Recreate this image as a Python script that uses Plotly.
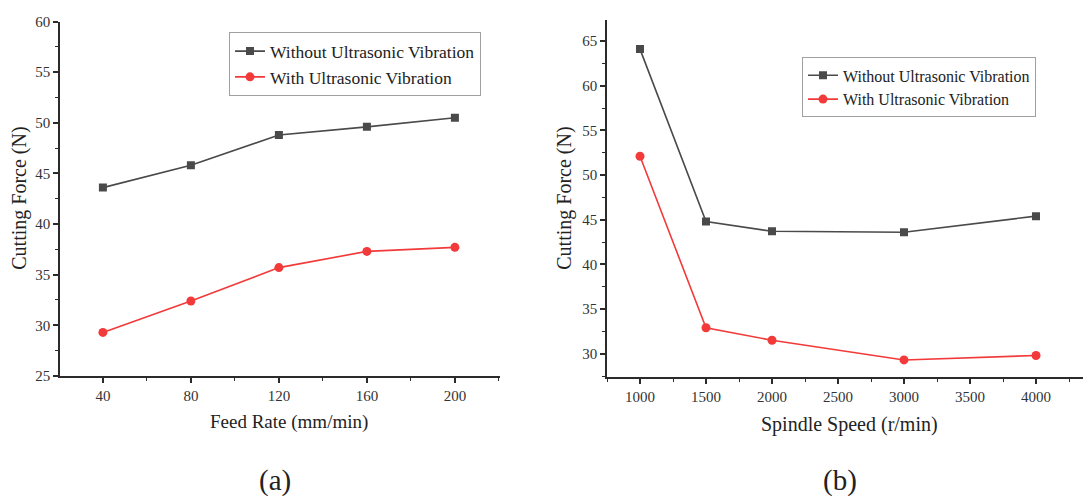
import plotly.graph_objects as go

# ---- data ----
feed_rate = [40, 80, 120, 160, 200]
feed_without = [43.6, 45.8, 48.8, 49.6, 50.5]
feed_with = [29.3, 32.4, 35.7, 37.3, 37.7]

spindle_speed = [1000, 1500, 2000, 3000, 4000]
speed_without = [64.1, 44.8, 43.7, 43.6, 45.4]
speed_with = [52.1, 32.9, 31.5, 29.3, 29.8]

name_without = "Without Ultrasonic Vibration"
name_with = "With Ultrasonic Vibration"

W, H = 1083, 504
FONT = "Liberation Serif, Times New Roman, serif"
GRAY = "#4a4a4a"
RED = "#f23a3a"
AX = "#2b2b2b"


def px_x(p):
    return p / W


def px_y(p):
    return 1 - p / H


fig = go.Figure()

line_kw = dict(width=1.6)
fig.add_trace(go.Scatter(x=feed_rate, y=feed_without, name=name_without, mode="lines+markers",
                         line=dict(color=GRAY, **line_kw),
                         marker=dict(symbol="square", size=8, color=GRAY),
                         xaxis="x", yaxis="y", legend="legend"))
fig.add_trace(go.Scatter(x=feed_rate, y=feed_with, name=name_with, mode="lines+markers",
                         line=dict(color=RED, **line_kw),
                         marker=dict(symbol="circle", size=9, color=RED),
                         xaxis="x", yaxis="y", legend="legend"))
fig.add_trace(go.Scatter(x=spindle_speed, y=speed_without, name=name_without, mode="lines+markers",
                         line=dict(color=GRAY, **line_kw),
                         marker=dict(symbol="square", size=8, color=GRAY),
                         xaxis="x2", yaxis="y2", legend="legend2"))
fig.add_trace(go.Scatter(x=spindle_speed, y=speed_with, name=name_with, mode="lines+markers",
                         line=dict(color=RED, **line_kw),
                         marker=dict(symbol="circle", size=9, color=RED),
                         xaxis="x2", yaxis="y2", legend="legend2"))

axis_common = dict(showline=True, linecolor=AX, linewidth=1.5, showgrid=False, zeroline=False,
                   ticks="outside", ticklen=5, tickwidth=1.5, tickcolor=AX,
                   tickfont=dict(family=FONT, size=15, color="#333"),
                   minor=dict(ticks="outside", ticklen=3, tickwidth=1.2, tickcolor=AX))

fig.update_layout(
    width=W, height=H,
    margin=dict(l=0, r=0, t=0, b=0),
    paper_bgcolor="white", plot_bgcolor="white",
    font=dict(family=FONT, color="#333"),
    xaxis=dict(domain=[px_x(60), px_x(500)], range=[20.5, 220.5], anchor="y",
               tickvals=feed_rate, minor_dtick=20, minor_tick0=0, **axis_common),
    yaxis=dict(domain=[px_y(380), px_y(14)], range=[25, 60], anchor="x",
               dtick=5, tick0=25, minor_dtick=2.5, minor_tick0=25, **axis_common),
    xaxis2=dict(domain=[px_x(607), 1.0], range=[750, 4356], anchor="y2",
                dtick=500, tick0=1000, minor_dtick=250, minor_tick0=0, **axis_common),
    yaxis2=dict(domain=[px_y(381), px_y(12)], range=[27.4, 67.4], anchor="x2",
                dtick=5, tick0=30, minor_dtick=2.5, minor_tick0=30, **axis_common),
    legend=dict(x=px_x(229), y=px_y(25), xanchor="left", yanchor="top",
                bgcolor="white", bordercolor="#a0a0a0", borderwidth=1,
                font=dict(family=FONT, size=17.5, color="#222"),
                tracegroupgap=0, itemwidth=30),
    legend2=dict(x=px_x(802), y=px_y(51), xanchor="left", yanchor="top",
                 bgcolor="white", bordercolor="#a0a0a0", borderwidth=1,
                 font=dict(family=FONT, size=16, color="#222"),
                 tracegroupgap=0, itemwidth=30),
    showlegend=True,
)

annos = [
    dict(text="Cutting Force (N)", x=px_x(20), y=px_y(197), textangle=-90, size=20),
    dict(text="Cutting Force (N)", x=px_x(565), y=px_y(197), textangle=-90, size=20),
    dict(text="Feed Rate (mm/min)", x=px_x(289), y=px_y(428), textangle=0, size=19),
    dict(text="Spindle Speed (r/min)", x=px_x(850), y=px_y(430), textangle=0, size=20),
    dict(text="(a)", x=px_x(275), y=px_y(488), textangle=0, size=29),
    dict(text="(b)", x=px_x(840), y=px_y(488), textangle=0, size=29),
]
for a in annos:
    fig.add_annotation(text=a["text"], x=a["x"], y=a["y"], xref="paper", yref="paper",
                       xanchor="center", yanchor="middle", showarrow=False, textangle=a["textangle"],
                       font=dict(family=FONT, size=a["size"], color="#222"))

post = ("document.documentElement.style.margin='0';document.body.style.margin='0';"
        "document.body.style.padding='0';document.body.style.overflow='hidden';"
        "document.documentElement.style.overflow='hidden';"
        "var gd=document.getElementById('{plot_id}');"
        "gd.style.position='fixed';gd.style.top='0px';gd.style.left='0px';")
fig.write_html("out.html", post_script=post, config={"displayModeBar": False})
